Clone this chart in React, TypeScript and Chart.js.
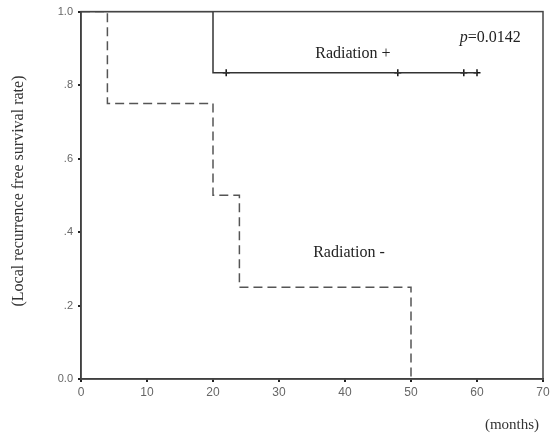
import React, { useEffect, useRef } from "react";
import { Chart, registerables } from "chart.js";

Chart.register(...registerables);

// Kaplan–Meier step data
const radPlusTimes = [0, 20, 60];
const radPlusSurv = [1.0, 0.8333, 0.8333];
const radPlusCensorTimes = [22, 48, 58, 60];
const radPlusCensorSurv = [0.8333, 0.8333, 0.8333, 0.8333];

const radMinusTimes = [0, 4, 20, 24, 50];
const radMinusSurv = [1.0, 0.75, 0.5, 0.25, 0.0];

const xTickValues = [0, 10, 20, 30, 40, 50, 60, 70];
const yTickValues = [0, 0.2, 0.4, 0.6, 0.8, 1.0];
const yTickLabels = ["0.0", ".2", ".4", ".6", ".8", "1.0"];

const yAxisTitle = "(Local recurrence free survival rate)";
const xAxisTitle = "(months)";

const annotations = [
  { text: "Radiation +", x: 41.2, y: 0.886 },
  { text: "Radiation -", x: 40.6, y: 0.344 },
];
const pValueText = { prefix: "p", rest: "=0.0142", x: 62, y: 0.93 };

const overlayPlugin = {
  id: "overlay",
  afterDraw(chart: any) {
    const { ctx, chartArea, scales } = chart;
    const xs = scales.x;
    const ys = scales.y;
    ctx.save();
    // frame
    ctx.strokeStyle = "#444";
    ctx.lineWidth = 1.5;
    ctx.strokeRect(chartArea.left, chartArea.top, chartArea.right - chartArea.left, chartArea.bottom - chartArea.top);

    ctx.fillStyle = "#222";
    ctx.font = "16px 'Liberation Serif', serif";
    ctx.textAlign = "center";
    ctx.textBaseline = "middle";
    for (const a of annotations) {
      ctx.fillText(a.text, xs.getPixelForValue(a.x), ys.getPixelForValue(a.y));
    }
    // p-value with italic p
    const px = xs.getPixelForValue(pValueText.x);
    const py = ys.getPixelForValue(pValueText.y);
    ctx.font = "italic 16px 'Liberation Serif', serif";
    const w1 = ctx.measureText(pValueText.prefix).width;
    ctx.font = "16px 'Liberation Serif', serif";
    const w2 = ctx.measureText(pValueText.rest).width;
    const start = px - (w1 + w2) / 2;
    ctx.textAlign = "left";
    ctx.font = "italic 16px 'Liberation Serif', serif";
    ctx.fillText(pValueText.prefix, start, py);
    ctx.font = "16px 'Liberation Serif', serif";
    ctx.fillText(pValueText.rest, start + w1, py);

    // y axis title (rotated)
    ctx.fillStyle = "#333";
    ctx.font = "16px 'Liberation Serif', serif";
    ctx.textAlign = "center";
    ctx.translate(19, 191);
    ctx.rotate(-Math.PI / 2);
    ctx.fillText(yAxisTitle, 0, 0);
    ctx.setTransform(1, 0, 0, 1, 0, 0);
    // x axis title
    ctx.font = "15px 'Liberation Serif', serif";
    ctx.textAlign = "center";
    ctx.fillText(xAxisTitle, 512, 425);
    ctx.restore();
  },
};

export default function App() {
  const canvasRef = useRef<HTMLCanvasElement | null>(null);

  useEffect(() => {
    if (!canvasRef.current) return;
    const chart = new Chart(canvasRef.current, {
      type: "line",
      data: {
        datasets: [
          {
            label: "Radiation +",
            data: radPlusTimes.map((t, i) => ({ x: t, y: radPlusSurv[i] })),
            stepped: "before",
            borderColor: "#333",
            borderWidth: 1.5,
            pointRadius: 0,
            fill: false,
          },
          {
            label: "Radiation + censored",
            data: radPlusCensorTimes.map((t, i) => ({ x: t, y: radPlusCensorSurv[i] })),
            showLine: false,
            pointStyle: "cross",
            pointRadius: 3.5,
            borderColor: "#111",
            borderWidth: 1.5,
          },
          {
            label: "Radiation -",
            data: radMinusTimes.map((t, i) => ({ x: t, y: radMinusSurv[i] })),
            stepped: "before",
            borderColor: "#555",
            borderWidth: 1.5,
            borderDash: [9, 5],
            pointRadius: 0,
            fill: false,
          },
        ],
      },
      options: {
        animation: false,
        responsive: false,
        maintainAspectRatio: false,
        layout: { padding: { top: 10, right: 11, left: 0, bottom: 0 } },
        plugins: { legend: { display: false }, tooltip: { enabled: false } },
        scales: {
          x: {
            type: "linear",
            min: 0,
            max: 70,
            afterBuildTicks: (s: any) => {
              s.ticks = xTickValues.map((v) => ({ value: v }));
            },
            afterFit: (s: any) => {
              s.height = 64;
            },
            ticks: {
              color: "#666",
              font: { family: "'Liberation Sans', sans-serif", size: 12 },
              padding: 3,
              maxRotation: 0,
            },
            grid: { drawOnChartArea: false, drawTicks: true, tickLength: 3, color: "#222", lineWidth: 2 },
            border: { color: "#333", width: 1.5 },
          },
          y: {
            type: "linear",
            min: 0,
            max: 1,
            afterBuildTicks: (s: any) => {
              s.ticks = yTickValues.map((v) => ({ value: v }));
            },
            afterFit: (s: any) => {
              s.width = 81;
            },
            ticks: {
              color: "#666",
              font: { family: "'Liberation Sans', sans-serif", size: 11 },
              padding: 5,
              callback: (v: any) => {
                const i = yTickValues.findIndex((t) => Math.abs(t - Number(v)) < 1e-6);
                return i >= 0 ? yTickLabels[i] : "";
              },
            },
            grid: { drawOnChartArea: false, drawTicks: true, tickLength: 3, color: "#222", lineWidth: 2 },
            border: { color: "#333", width: 1.5 },
          },
        },
      },
      plugins: [overlayPlugin],
    });
    return () => chart.destroy();
  }, []);

  return (
    <div style={{ position: "fixed", left: 0, top: 0, width: 554, height: 443, background: "#fff" }}>
      <canvas ref={canvasRef} width={554} height={443} style={{ width: 554, height: 443 }} />
    </div>
  );
}
